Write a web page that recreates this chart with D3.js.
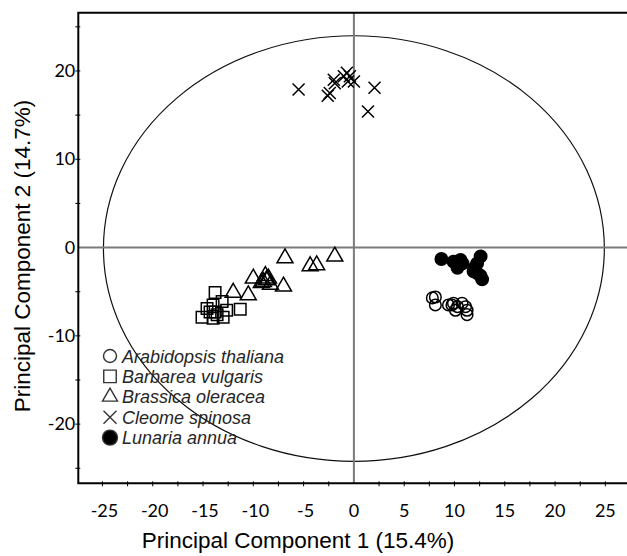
<!DOCTYPE html>
<html>
<head>
<meta charset="utf-8">
<script src="https://cdn.jsdelivr.net/npm/d3@7"></script>
<style>
  body { margin: 0; background: #fff; }
  svg { display: block; }
</style>
</head>
<body>
<div id="chart"></div>
<script>
// PCA scores (PC1, PC2)
const species = ["Arabidopsis thaliana", "Barbarea vulgaris", "Brassica oleracea", "Cleome spinosa", "Lunaria annua"];

const arabidopsisPC1 = [7.8, 8.1, 8.1, 9.75, 9.9, 10.3, 10.75, 11.1, 11.25, 11.25, 10.1, 9.4];
const arabidopsisPC2 = [-5.7, -5.6, -6.5, -6.5, -6.3, -6.7, -6.3, -6.7, -7.1, -7.6, -7.1, -6.5];

const barbareaPC1 = [-13.8, -13.1, -14.0, -14.6, -15.1, -13.8, -13.6, -13.0, -12.65, -11.3, -14.3, -14.0];
const barbareaPC2 = [-5.1, -6.1, -6.5, -6.9, -7.9, -7.3, -7.6, -7.9, -7.1, -7.0, -7.3, -8.0];

const brassicaPC1 = [-6.85, -4.35, -3.7, -1.9, -10.0, -8.8, -8.7, -9.2, -8.3, -7.0, -12.0, -10.5, -9.0, -8.5];
const brassicaPC2 = [-1.2, -2.1, -2.0, -1.0, -3.5, -3.2, -3.7, -4.0, -4.2, -4.4, -5.1, -5.4, -3.9, -3.5];

const cleomePC1 = [-5.5, -2.0, -2.4, -2.6, -0.7, -0.4, 0.0, 2.05, 1.4, -1.9, -1.0, -0.6];
const cleomePC2 = [17.9, 19.0, 17.5, 17.2, 19.8, 19.4, 18.8, 18.1, 15.4, 18.6, 19.4, 18.8];

const lunariaPC1 = [8.7, 9.9, 10.6, 10.3, 10.8, 12.6, 12.25, 12.0, 11.9, 12.25, 12.75, 12.6];
const lunariaPC2 = [-1.3, -1.6, -1.4, -2.3, -1.8, -1.0, -1.8, -2.3, -2.7, -2.9, -3.6, -3.2];

const xTicks = [-25, -20, -15, -10, -5, 0, 5, 10, 15, 20, 25];
const yTicks = [-20, -10, 0, 10, 20];
const ellipseRadii = [24.9, 24.1];   // 95% confidence ellipse, PC1 / PC2 units

const width = 627, height = 556;

const svg = d3.select("#chart")
    .append("svg")
        .attr("width", width)
        .attr("height", height);

const x = d3.scaleLinear()
    .domain([-27.4, 27.5])
    .range([78.3, 630.5]);

const y = d3.scaleLinear()
    .domain([-26.7, 26.6])
    .range([483.3, 12.7]);

const tickFont = "Lato, 'Open Sans', sans-serif";
const titleFont = "'Liberation Sans', Arial, sans-serif";

// confidence ellipse
svg.append("ellipse")
    .attr("cx", x(0))
    .attr("cy", y(0) + 1)
    .attr("rx", x(ellipseRadii[0]) - x(0))
    .attr("ry", y(0) - y(ellipseRadii[1]))
    .attr("fill", "none")
    .attr("stroke", "#111")
    .attr("stroke-width", 1.2);

// zero lines
svg.append("line")
    .attr("x1", x(0)).attr("x2", x(0))
    .attr("y1", y.range()[1]).attr("y2", y.range()[0])
    .attr("stroke", "#7a7a7a")
    .attr("stroke-width", 2);
svg.append("line")
    .attr("x1", x.range()[0]).attr("x2", x.range()[1])
    .attr("y1", y(0)).attr("y2", y(0))
    .attr("stroke", "#7a7a7a")
    .attr("stroke-width", 2);

// frame (right side falls outside the picture)
svg.append("path")
    .attr("d", "M" + x.range()[1] + "," + y.range()[1] +
        "H" + x.range()[0] + "V" + y.range()[0] + "H" + x.range()[1])
    .attr("fill", "none")
    .attr("stroke", "#000")
    .attr("stroke-width", 2);

// minor + major ticks
const xTickAll = d3.range(-25, 25.01, 2.5);
svg.selectAll(".xtick")
    .data(xTickAll.filter(d => d !== 0))
    .join("line")
        .attr("class", "xtick")
        .attr("x1", d => x(d)).attr("x2", d => x(d))
        .attr("y1", y.range()[0] - 2).attr("y2", y.range()[0] + 3)
        .attr("stroke", "#000")
        .attr("stroke-width", 1);

const yTickAll = d3.range(-25, 25.01, 5);
svg.selectAll(".ytick")
    .data(yTickAll.filter(d => d !== 0))
    .join("line")
        .attr("class", "ytick")
        .attr("x1", x.range()[0] - 3).attr("x2", x.range()[0] + 2)
        .attr("y1", d => y(d)).attr("y2", d => y(d))
        .attr("stroke", "#000")
        .attr("stroke-width", 1);

svg.selectAll(".xlabel")
    .data(xTicks)
    .join("text")
        .attr("class", "xlabel")
        .attr("x", d => x(d) + (d < 0 ? 2 : 0))
        .attr("y", 517)
        .style("font-family", tickFont)
        .style("font-size", "18px")
        .style("text-anchor", "middle")
        .attr("fill", "#000")
        .text(d => d);

svg.selectAll(".ylabel")
    .data(yTicks)
    .join("text")
        .attr("class", "ylabel")
        .attr("x", x.range()[0] - 3)
        .attr("y", d => y(d) + 6)
        .style("font-family", tickFont)
        .style("font-size", "18px")
        .style("text-anchor", "end")
        .attr("fill", "#000")
        .text(d => d);

// axis titles
svg.append("text")
    .attr("x", 298)
    .attr("y", 548)
    .style("font-family", titleFont)
    .style("font-size", "22.5px")
    .style("text-anchor", "middle")
    .text("Principal Component 1 (15.4%)");

svg.append("text")
    .attr("transform", "translate(30,256) rotate(-90)")
    .style("font-family", titleFont)
    .style("font-size", "22.5px")
    .style("text-anchor", "middle")
    .text("Principal Component 2 (14.7%)");

// marker shapes
const markers = {
    circle: r => d3.symbol().type(d3.symbolCircle).size(Math.PI * r * r)(),
    square: s => d3.symbol().type(d3.symbolSquare).size(s * s)(),
    triangle: s => {
        const h = s * Math.sqrt(3) / 2;
        return "M0," + (-h * 2 / 3) + "L" + (s / 2) + "," + (h / 3) + "L" + (-s / 2) + "," + (h / 3) + "Z";
    },
    cross: a => "M" + (-a) + "," + (-a) + "L" + a + "," + a + "M" + (-a) + "," + a + "L" + a + "," + (-a)
};

const groups = [
    {name: species[0], pc1: arabidopsisPC1, pc2: arabidopsisPC2, path: markers.circle(5.8), fill: "none"},
    {name: species[1], pc1: barbareaPC1, pc2: barbareaPC2, path: markers.square(11.5), fill: "none"},
    {name: species[2], pc1: brassicaPC1, pc2: brassicaPC2, path: markers.triangle(16), fill: "none"},
    {name: species[3], pc1: cleomePC1, pc2: cleomePC2, path: markers.cross(6), fill: "none"},
    {name: species[4], pc1: lunariaPC1, pc2: lunariaPC2, path: markers.circle(6.2), fill: "#000"}
];

const pts = svg.append("g");
groups.forEach(g => {
    pts.selectAll(null)
        .data(g.pc1.map((v, i) => [v, g.pc2[i]]))
        .join("path")
            .attr("transform", d => "translate(" + x(d[0]) + "," + y(d[1]) + ")")
            .attr("d", g.path)
            .attr("fill", g.fill)
            .attr("stroke", "#000")
            .attr("stroke-width", 1.5);
});

// legend
const legend = svg.append("g")
    .attr("transform", "translate(110,356)");

const legendRow = legend.selectAll(".row")
    .data(groups)
    .join("g")
        .attr("class", "row")
        .attr("transform", (d, i) => "translate(0," + i * 20.4 + ")");

legendRow.append("path")
    .attr("d", (d, i) => [markers.circle(6.5), markers.square(12.5), markers.triangle(15), markers.cross(6.5), markers.circle(7.5)][i])
    .attr("fill", d => d.fill)
    .attr("stroke", "#333")
    .attr("stroke-width", 1.4);

legendRow.append("text")
    .attr("x", 12)
    .attr("y", 6.5)
    .style("font-family", titleFont)
    .style("font-style", "italic")
    .style("font-size", "18px")
    .attr("fill", "#262626")
    .text(d => d.name);
</script>
</body>
</html>
